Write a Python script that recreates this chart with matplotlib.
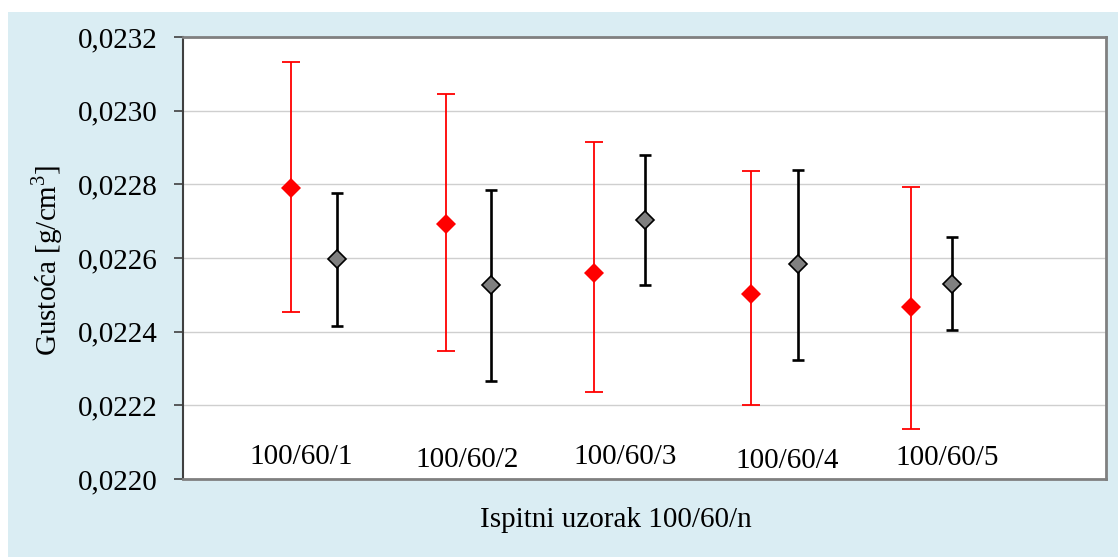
import matplotlib
matplotlib.use("agg")
import matplotlib.pyplot as plt
from matplotlib.patches import Rectangle
from matplotlib.ticker import FuncFormatter, MultipleLocator

# red series (x position, mean, lower / upper end of error bar)
red_x = [0.70, 1.71, 2.67, 3.69, 4.73]
red_mean = [0.022789, 0.022692, 0.022558, 0.022501, 0.022468]
red_low = [0.022453, 0.022348, 0.022237, 0.022200, 0.022137]
red_high = [0.023131, 0.023045, 0.022914, 0.022836, 0.022793]

# grey series
grey_x = [1.0, 2.0, 3.0, 4.0, 5.0]
grey_mean = [0.022596, 0.022527, 0.022703, 0.022583, 0.022529]
grey_low = [0.022416, 0.022267, 0.022528, 0.022324, 0.022404]
grey_high = [0.022776, 0.022785, 0.022880, 0.022840, 0.022656]

samples = ["100/60/1", "100/60/2", "100/60/3", "100/60/4", "100/60/5"]
sample_x = [0.767, 1.846, 2.873, 3.93, 4.967]
sample_y = [0.022061, 0.022052, 0.022059, 0.022049, 0.022056]

plt.rcParams["font.family"] = ["Liberation Serif", "DejaVu Serif"]
plt.rcParams["font.size"] = 21
plt.rcParams["mathtext.fontset"] = "custom"
plt.rcParams["mathtext.rm"] = "Liberation Serif"


def errs(mean, low, high):
    return [[m - l for m, l in zip(mean, low)], [h - m for m, h in zip(mean, high)]]


fig = plt.figure(figsize=(11.18, 5.57), dpi=100, facecolor="white")
fig.patches.append(Rectangle((8 / 1118, 0), 1.0, 1 - 12 / 557, transform=fig.transFigure,
                             facecolor="#DAEDF3", edgecolor="none", zorder=-10))
ax = fig.add_axes([183 / 1118, 1 - 479 / 557, (1106 - 183) / 1118, (479 - 37) / 557])
ax.set_facecolor("white")

ax.errorbar(red_x, red_mean, yerr=errs(red_mean, red_low, red_high), fmt="none",
            ecolor="#FF0000", elinewidth=1.3, capsize=6.6, capthick=1.3, zorder=3)
ax.plot(red_x, red_mean, "D", color="#FF0000", markersize=10.6,
        markeredgewidth=0, linestyle="none", zorder=4)
ax.errorbar(grey_x, grey_mean, yerr=errs(grey_mean, grey_low, grey_high), fmt="none",
            ecolor="black", elinewidth=1.9, capsize=4.2, capthick=1.9, zorder=3)
ax.plot(grey_x, grey_mean, "D", markerfacecolor="#808080", markeredgecolor="black",
        markeredgewidth=1.2, markersize=9.2, linestyle="none", zorder=4)

for name, x, y in zip(samples, sample_x, sample_y):
    ax.text(x, y, name, ha="center", va="center")

ax.set_xlim(0, 6)
ax.set_ylim(0.0220, 0.0232)
ax.yaxis.set_major_locator(MultipleLocator(0.0002))
ax.yaxis.set_major_formatter(FuncFormatter(lambda v, p: f"{v:.4f}".replace(".", ",")))
ax.set_xticks([])
ax.grid(axis="y", color="#CFCFCF", linewidth=1.0)
ax.set_axisbelow(True)
ax.tick_params(axis="y", direction="out", length=6.5, width=1.2, color="#404040", pad=12)

for side in ["top", "right", "bottom"]:
    ax.spines[side].set_color("#808080")
    ax.spines[side].set_linewidth(2)
ax.spines["left"].set_color("#404040")
ax.spines["left"].set_linewidth(1.5)

fig.text(47 / 1118, 1 - 260 / 557, r"Gustoća [g/cm$^{\mathrm{3}}$]", rotation=90,
         ha="center", va="center")
fig.text(615.7 / 1118, 1 - 520 / 557, "Ispitni uzorak 100/60/n",
         ha="center", va="center")

plt.savefig("out.png", dpi=100)
